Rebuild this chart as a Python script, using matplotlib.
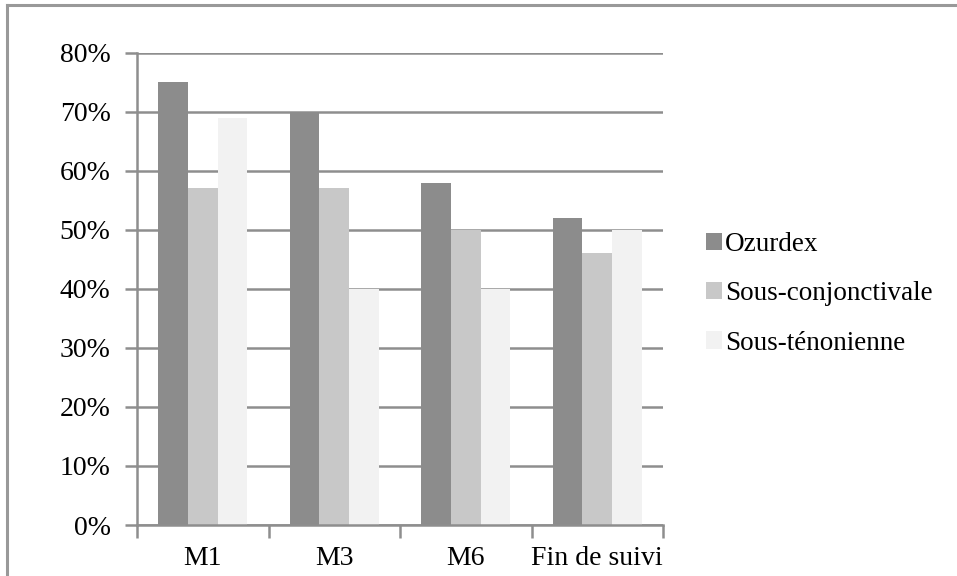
import matplotlib
matplotlib.use("Agg")
import matplotlib.pyplot as plt
from matplotlib.lines import Line2D
import numpy as np

categories = ["M1", "M3", "M6", "Fin de suivi"]
series_names = ["Ozurdex", "Sous-conjonctivale", "Sous-ténonienne"]
ozurdex = [75, 70, 58, 52]
sous_conj = [57, 57, 50, 46]
sous_tenon = [69, 40, 40, 50]
y_ticks = [0, 10, 20, 30, 40, 50, 60, 70, 80]

colors = ["#8c8c8c", "#c8c8c8", "#f2f2f2"]
grid_col = "#8e8e8e"

plt.rcParams['font.family'] = ['Liberation Serif', 'DejaVu Serif']

fig = plt.figure(figsize=(9.57, 5.76), dpi=100)
ax = fig.add_axes([0.1432, 0.0885, 0.5496, 0.82])

x = np.arange(len(categories))
w = 0.226
for i, vals in enumerate([ozurdex, sous_conj, sous_tenon]):
    ax.bar(x + (i - 1) * w, vals, width=w, color=colors[i], label=series_names[i], zorder=3)

ax.set_xlim(-0.5, 3.5)
ax.set_ylim(0, 80)
ax.set_yticks(y_ticks)
ax.set_yticklabels([str(v) + "%" for v in y_ticks])
ax.yaxis.grid(True, color=grid_col, linewidth=1.8, zorder=0)

# x ticks sit on the borders between categories, labels in the middle
ax.set_xticks(np.arange(-0.5, 4, 1.0))
ax.set_xticklabels([])
ax.set_xticks(x, minor=True)
ax.set_xticklabels(categories, minor=True)
ax.tick_params(axis='x', which='minor', length=0, pad=15, labelsize=20)
ax.tick_params(axis='x', which='major', length=9, width=1.8, color=grid_col)
ax.tick_params(axis='y', length=9, width=1.8, color=grid_col, pad=10, labelsize=20)

for s in ["top", "right"]:
    ax.spines[s].set_visible(False)
for s in ["left", "bottom"]:
    ax.spines[s].set_color(grid_col)
    ax.spines[s].set_linewidth(1.8)
    ax.spines[s].set_zorder(4)

ax.legend(loc='center left', bbox_to_anchor=(0.726, 0.49), bbox_transform=fig.transFigure,
          frameon=False, fontsize=19.5, handlelength=0.6, handleheight=0.6,
          handletextpad=0.12, labelspacing=0.9, borderaxespad=0)

# outer frame of the figure box
fig.add_artist(Line2D([7 / 957, 1], [1 - 5 / 576, 1 - 5 / 576], transform=fig.transFigure,
                      color="#999999", linewidth=2.2))
fig.add_artist(Line2D([7 / 957, 7 / 957], [0, 1 - 5 / 576], transform=fig.transFigure,
                      color="#999999", linewidth=2.2))

fig.savefig("out.png", dpi=100)
